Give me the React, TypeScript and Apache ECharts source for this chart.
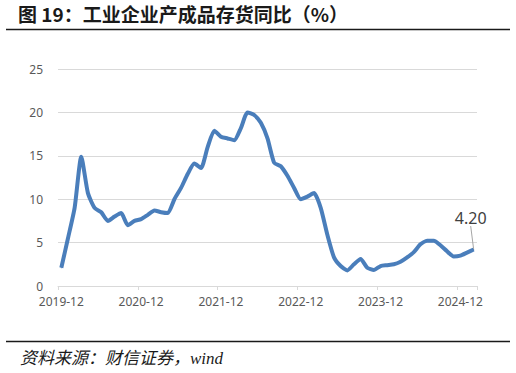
import React, { useEffect, useRef } from "react";
import * as echarts from "echarts";

const startYear = 2019;
const startMonth = 12;
const pointCount = 63;
const categories: string[] = [];
for (let i = 0; i < pointCount; i++) {
  const m0 = startMonth - 1 + i;
  const y = startYear + Math.floor(m0 / 12);
  const m = (m0 % 12) + 1;
  categories.push(`${y}-${m < 10 ? "0" + m : m}`);
}

const inventoryYoY: number[] = [
  2.1, 5.5, 9.0, 14.9, 10.7, 9.0, 8.5, 7.5, 8.0, 8.4, 7.0, 7.5, 7.7,
  8.2, 8.7, 8.5, 8.4, 10.0, 11.3, 12.9, 14.1, 13.6, 16.0, 17.9, 17.2,
  17.0, 16.8, 18.2, 20.0, 19.7, 18.8, 17.0, 14.2, 13.8, 12.7, 11.3, 10.0,
  10.3, 10.7, 9.0, 5.9, 3.3, 2.3, 1.8, 2.5, 3.1, 2.1, 1.85, 2.3,
  2.4, 2.5, 2.8, 3.3, 3.9, 4.8, 5.2, 5.2, 4.7, 4.0, 3.4, 3.5,
  3.85, 4.2,
];

const lastLabel = "4.20";
const yTicks = { min: 0, max: 25, interval: 5 };
const titleText = "图 19：工业企业产成品存货同比（%）";
const sourceText = "资料来源：财信证券，wind";

export default function App() {
  const ref = useRef<HTMLDivElement>(null);
  useEffect(() => {
    if (!ref.current) return;
    const chart = echarts.init(ref.current, null, { renderer: "svg" });
    const last = inventoryYoY.length - 1;
    const seriesData = inventoryYoY.map((v, i) =>
      i === last
        ? {
            value: v,
            label: {
              show: true,
              position: "top",
              distance: 5,
              formatter: lastLabel,
              fontSize: 16,
              color: "#404040",
              fontFamily: "Noto Sans, Liberation Sans, sans-serif",
            },
            labelLine: {
              show: true,
              length2: 0,
              lineStyle: { color: "#a6a6a6", width: 1 },
            },
          }
        : v
    );
    chart.setOption({
      animation: false,
      backgroundColor: "#ffffff",
      grid: { left: 58, right: 39, top: 69, bottom: 87 },
      xAxis: {
        type: "category",
        data: categories,
        boundaryGap: true,
        axisLine: { lineStyle: { color: "#d9d9d9", width: 1 } },
        axisTick: {
          show: true,
          interval: 11,
          length: 4,
          lineStyle: { color: "#d9d9d9" },
        },
        axisLabel: {
          interval: 11,
          margin: 9,
          fontSize: 12,
          color: "#595959",
          fontFamily: "Noto Sans, Liberation Sans, sans-serif",
        },
        splitLine: { show: false },
      },
      yAxis: {
        type: "value",
        min: yTicks.min,
        max: yTicks.max,
        interval: yTicks.interval,
        axisLine: { show: false },
        axisTick: { show: false },
        axisLabel: {
          margin: 15,
          fontSize: 12,
          color: "#595959",
          fontFamily: "Noto Sans, Liberation Sans, sans-serif",
        },
        splitLine: { lineStyle: { color: "#d9d9d9", width: 1 } },
      },
      series: [
        {
          type: "line",
          data: seriesData,
          smooth: 0.2,
          showSymbol: true,
          symbol: "circle",
          symbolSize: 1,
          itemStyle: { color: "#4a7ebb" },
          lineStyle: { color: "#4a7ebb", width: 4 },
          labelLine: { show: true, lineStyle: { color: "#a6a6a6", width: 1 } },
          labelLayout: { dx: -3, dy: -18 },
        },
      ],
      graphic: [
        {
          type: "text",
          left: 18,
          top: 4,
          style: {
            text: titleText,
            font: "bold 19px 'Noto Sans CJK SC', sans-serif",
            fill: "#1a1a1a",
          },
        },
        {
          type: "line",
          shape: { x1: 6, y1: 29.5, x2: 510, y2: 29.5 },
          style: { stroke: "#1a1a1a", lineWidth: 1.5 },
        },
        {
          type: "line",
          shape: { x1: 6, y1: 341.5, x2: 510, y2: 341.5 },
          style: { stroke: "#1a1a1a", lineWidth: 1.5 },
        },
        {
          type: "text",
          left: 20,
          top: 350,
          style: {
            text: sourceText,
            font: "italic 17px 'Liberation Serif', 'Noto Sans CJK SC', serif",
            fill: "#1a1a1a",
          },
        },
      ],
    });
    return () => chart.dispose();
  }, []);
  return (
    <div
      ref={ref}
      style={{ position: "fixed", left: 0, top: 0, width: 516, height: 373 }}
    />
  );
}
